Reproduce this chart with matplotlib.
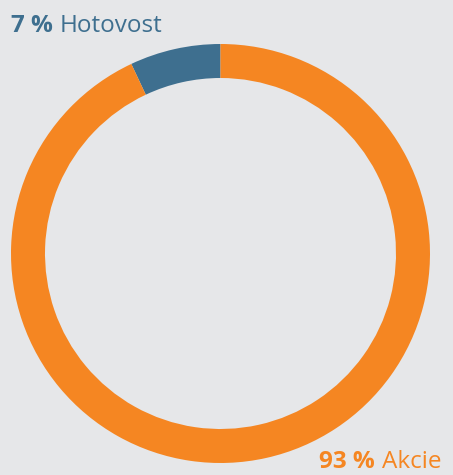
import matplotlib.pyplot as plt

# data
labels = ['Hotovost', 'Akcie']
values = [7, 93]
colors = ['#3e6f8f', '#f58622']
bg = '#e6e7e9'

fig = plt.figure(figsize=(4.53, 4.75), dpi=100, facecolor=bg)
ax = fig.add_axes([0, 0, 1, 1])
ax.set_facecolor(bg)

ax.pie(values, colors=colors, startangle=90, counterclock=True,
       center=(220.5, 221.5), radius=209.5, frame=True,
       wedgeprops=dict(width=34, linewidth=0))
ax.set_xlim(0, 453)
ax.set_ylim(0, 475)
ax.set_aspect('equal')
ax.axis('off')

fnt = 'Open Sans'
fs = 17.5
# top-left label
t1 = ax.text(11, 443, '%d %%' % values[0], fontsize=fs, fontweight='bold',
             color=colors[0], family=fnt, va='baseline', ha='left')
ax.annotate(labels[0], xy=(1, 0), xycoords=t1, xytext=(5, 0),
            textcoords='offset points', fontsize=fs, color=colors[0],
            family=fnt, va='bottom', ha='left')

# bottom-right label
t2 = ax.text(319, 7, '%d %%' % values[1], fontsize=fs, fontweight='bold',
             color=colors[1], family=fnt, va='baseline', ha='left')
ax.annotate(labels[1], xy=(1, 0), xycoords=t2, xytext=(5, 0),
            textcoords='offset points', fontsize=fs, color=colors[1],
            family=fnt, va='bottom', ha='left')

fig.savefig('out.png', dpi=100, facecolor=bg)
